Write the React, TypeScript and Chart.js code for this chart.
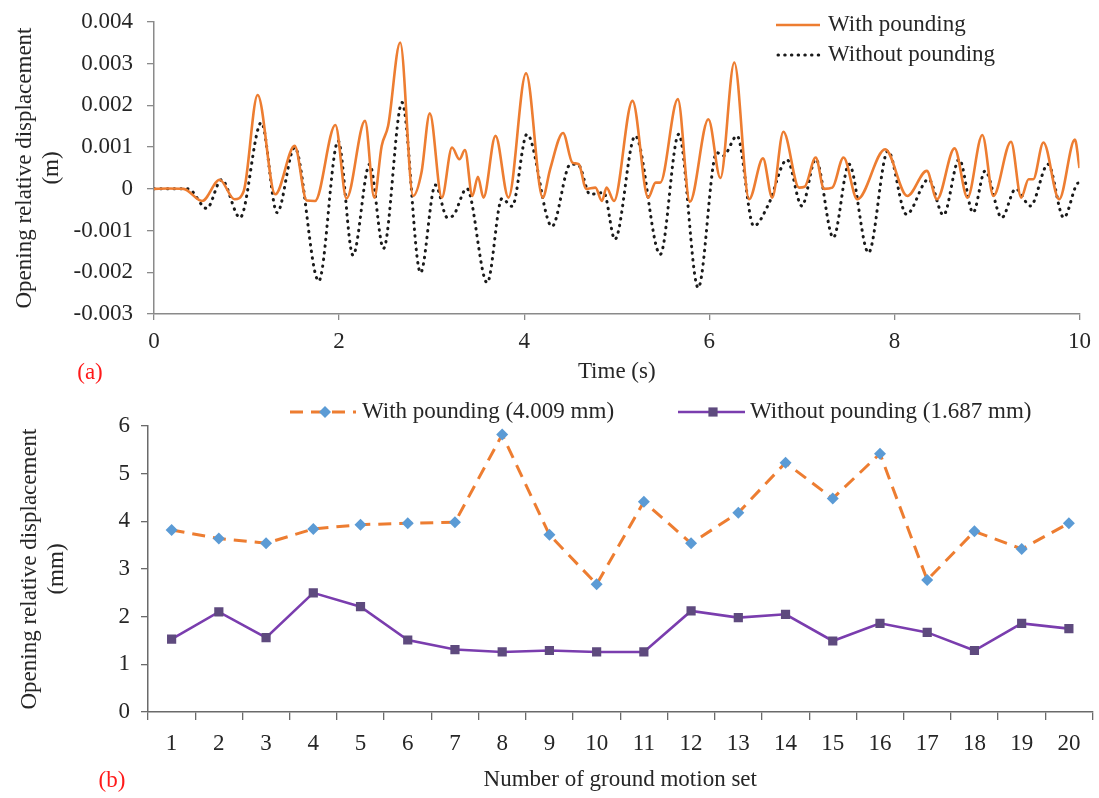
import { useEffect, useRef } from 'react';
import { Chart, registerables } from 'chart.js';

Chart.register(...registerables);

const FONT_FAMILY = '"Liberation Serif", "Times New Roman", Times, serif';
const FONT_SIZE = 23;
const TEXT_COLOR = '#262626';
const LABEL_RED = '#FF1A1A';
const ORANGE = '#ED7D31';
const BLUE = '#5B9BD5';
const PURPLE = '#7A3DAE';
const PURPLE_MARKER = '#5E4A7E';

// ---- Panel (a): opening relative displacement time history ----
const timeWithPounding = [
  0, 0.15, 0.32, 0.52, 0.71, 0.87, 0.97, 1.12, 1.31, 1.52, 1.65, 1.74, 1.96, 2.08, 2.28, 2.38,
  2.46, 2.53, 2.66, 2.8, 2.89, 2.98, 3.11, 3.22, 3.3, 3.36, 3.44, 3.5, 3.56, 3.69, 3.83, 4.02,
  4.2, 4.28, 4.42, 4.52, 4.59, 4.67, 4.77, 4.84, 4.89, 4.97, 5.17, 5.34, 5.42, 5.47, 5.66, 5.79,
  5.99, 6.12, 6.27, 6.43, 6.58, 6.68, 6.8, 6.97, 7.03, 7.15, 7.24, 7.33, 7.45, 7.6, 7.9, 8.14,
  8.35, 8.46, 8.65, 8.79, 8.95, 9.07, 9.26, 9.37, 9.45, 9.5, 9.61, 9.78, 9.95, 10,
];
const dispWithPounding = [
  0, 0.00001, 0, -0.00029, 0.00022, -0.00025, -0.00005, 0.00225, -0.00013, 0.00103, -0.00028,
  -0.00029, 0.00153, -0.00023, 0.00163, -0.00021, 0.00103, 0.00151, 0.00351, -0.00017, 0.00039,
  0.00181, -0.00021, 0.00099, 0.00071, 0.00093, -0.00017, 0.00029, -0.00021, 0.00127, -0.00021,
  0.00277, -0.00021, 0.00047, 0.00134, 0.00063, 0.00059, 0, 0.00003, -0.00029, 0.00003, -0.00029,
  0.00211, -0.00021, 0.00015, 0.00015, 0.00215, -0.00031, 0.00167, 0.00026, 0.00303, -0.00025,
  0.00073, -0.00021, 0.00137, 0.00003, 0.00005, 0.00075, 0, 0.00003, 0.00075, -0.00025, 0.00095,
  -0.00017, 0.00043, -0.00025, 0.00097, -0.00021, 0.00129, -0.00017, 0.00113, -0.00021, 0.00023,
  0.00023, 0.00111, -0.00025, 0.00118, 0.0005,
];
const timeWithoutPounding = [
  0, 0.2, 0.37, 0.57, 0.73, 0.93, 1.16, 1.33, 1.52, 1.78, 1.99, 2.15, 2.33, 2.48, 2.68, 2.88,
  3.04, 3.17, 3.24, 3.38, 3.6, 3.76, 3.87, 4.03, 4.3, 4.5, 4.59, 4.71, 4.86, 4.98, 5.2, 5.47,
  5.67, 5.88, 6.08, 6.15, 6.3, 6.48, 6.64, 6.84, 7.0, 7.15, 7.34, 7.51, 7.72, 7.93, 8.13, 8.37,
  8.53, 8.7, 8.85, 8.98, 9.16, 9.31, 9.47, 9.66, 9.83, 9.97, 10,
];
const dispWithoutPounding = [
  0, 0, 0, -0.00047, 0.00022, -0.00069, 0.00159, -0.00057, 0.00099, -0.00221, 0.00115, -0.00159,
  0.00059, -0.00143, 0.00207, -0.00201, 0.00009, -0.00069, -0.00062, 0.00001, -0.00225, -0.00023,
  -0.00042, 0.00131, -0.0009, 0.00059, 0.00056, -0.00013, -0.00009, -0.00121, 0.00127, -0.00157,
  0.00131, -0.00237, 0.00087, 0.00079, 0.00127, -0.00089, -0.00037, 0.0007, -0.00041, 0.00071,
  -0.00117, 0.00059, -0.00153, 0.00091, -0.00061, 0.00023, -0.00063, 0.00071, -0.00057, 0.00043,
  -0.00069, 0, -0.00041, 0.00059, -0.00069, 0.00011, 0.00015,
];
const timeTicks = { min: 0, max: 10, step: 2 };
const dispTicks = { min: -0.003, max: 0.004, step: 0.001 };

// ---- Panel (b): peak opening displacement per ground motion set ----
const groundMotionSets = [
  '1', '2', '3', '4', '5', '6', '7', '8', '9', '10',
  '11', '12', '13', '14', '15', '16', '17', '18', '19', '20',
];
const peakWithPounding = [
  3.82, 3.64, 3.54, 3.84, 3.93, 3.96, 3.98, 5.82, 3.72, 2.68,
  4.41, 3.54, 4.18, 5.23, 4.48, 5.42, 2.77, 3.79, 3.42, 3.96,
];
const peakWithoutPounding = [
  1.53, 2.1, 1.56, 2.5, 2.21, 1.51, 1.31, 1.26, 1.29, 1.26,
  1.26, 2.12, 1.98, 2.05, 1.49, 1.86, 1.67, 1.29, 1.86, 1.75,
];
const seriesNamesB = ['With pounding (4.009 mm)', 'Without pounding (1.687 mm)'];
const peakTicks = { min: 0, max: 6, step: 1 };

const font = { family: FONT_FAMILY, size: FONT_SIZE };

type LegendEntry = {
  datasetIndex: number;
  x0: number;
  x1: number;
  y: number;
  textX: number;
  markerX?: number;
};

// Draws a free-standing legend plus the red panel letter.
function panelDecorations(id: string, entries: LegendEntry[], letter: { text: string; x: number; y: number }) {
  return {
    id,
    afterDraw(chart: any) {
      const ctx: CanvasRenderingContext2D = chart.ctx;
      ctx.save();
      ctx.font = `${FONT_SIZE}px ${FONT_FAMILY}`;
      ctx.textBaseline = 'middle';
      for (const e of entries) {
        const ds: any = chart.data.datasets[e.datasetIndex];
        ctx.strokeStyle = ds.borderColor;
        ctx.lineWidth = ds.borderWidth;
        ctx.lineCap = ds.borderCapStyle || 'butt';
        ctx.setLineDash(ds.borderDash || []);
        ctx.beginPath();
        ctx.moveTo(e.x0, e.y);
        ctx.lineTo(e.x1, e.y);
        ctx.stroke();
        ctx.setLineDash([]);
        if (e.markerX !== undefined) {
          const r = ds.pointRadius;
          ctx.fillStyle = ds.pointBackgroundColor;
          ctx.beginPath();
          if (ds.pointStyle === 'rectRot') {
            ctx.moveTo(e.markerX, e.y - r);
            ctx.lineTo(e.markerX + r, e.y);
            ctx.lineTo(e.markerX, e.y + r);
            ctx.lineTo(e.markerX - r, e.y);
            ctx.closePath();
          } else {
            const s = r * Math.SQRT1_2;
            ctx.rect(e.markerX - s, e.y - s, 2 * s, 2 * s);
          }
          ctx.fill();
        }
        ctx.fillStyle = TEXT_COLOR;
        ctx.textAlign = 'left';
        ctx.fillText(ds.label, e.textX, e.y);
      }
      ctx.fillStyle = LABEL_RED;
      ctx.textAlign = 'center';
      ctx.fillText(letter.text, letter.x, letter.y);
      ctx.restore();
    },
  };
}

function axisStyle(color: string, tickLength: number, offset = false) {
  return {
    grid: { display: true, drawOnChartArea: false, drawTicks: true, tickLength, color, lineWidth: 1.3, offset },
    border: { display: true, color, width: 1.5 },
  };
}

export default function App() {
  const topRef = useRef<HTMLCanvasElement>(null);
  const bottomRef = useRef<HTMLCanvasElement>(null);

  useEffect(() => {
    const charts: Chart[] = [];
    const topGray = '#8a8a8a';
    const bottomGray = '#6a6a6a';

    if (topRef.current) {
      charts.push(
        new Chart(topRef.current, {
          type: 'line',
          data: {
            datasets: [
              {
                label: 'With pounding',
                data: timeWithPounding.map((t, i) => ({ x: t, y: dispWithPounding[i] })),
                borderColor: ORANGE,
                borderWidth: 2.6,
                pointRadius: 0,
                cubicInterpolationMode: 'monotone',
                fill: false,
              },
              {
                label: 'Without pounding',
                data: timeWithoutPounding.map((t, i) => ({ x: t, y: dispWithoutPounding[i] })),
                borderColor: '#1a1a1a',
                borderWidth: 3,
                borderDash: [0.5, 6.2],
                borderCapStyle: 'round',
                pointRadius: 0,
                cubicInterpolationMode: 'monotone',
                fill: false,
              },
            ],
          },
          options: {
            responsive: false,
            animation: false,
            layout: { padding: { left: 0, top: 22, right: 19, bottom: 0 } },
            plugins: { legend: { display: false }, tooltip: { enabled: false } },
            scales: {
              x: {
                type: 'linear',
                min: timeTicks.min,
                max: timeTicks.max,
                ticks: { stepSize: timeTicks.step, font, color: TEXT_COLOR, padding: 8 },
                title: { display: true, text: 'Time (s)', font, color: TEXT_COLOR, padding: { top: 0, bottom: 9 } },
                ...axisStyle(topGray, 6),
                afterFit: (s: any) => { s.height = 81; },
              },
              y: {
                type: 'linear',
                min: dispTicks.min,
                max: dispTicks.max,
                ticks: {
                  stepSize: dispTicks.step,
                  font,
                  color: TEXT_COLOR,
                  padding: 14,
                  callback: (v: any) => (Math.abs(Number(v)) < 1e-9 ? '0' : Number(v).toFixed(3)),
                },
                title: {
                  display: true,
                  text: ['Opening relative displacement', '(m)'],
                  font,
                  color: TEXT_COLOR,
                  padding: { top: 11, bottom: 0 },
                },
                ...axisStyle(topGray, 7),
                afterFit: (s: any) => {
                  s.width = 154;
                  s.paddingTop = 0;
                  s.paddingBottom = 0;
                },
              },
            },
          },
          plugins: [
            panelDecorations(
              'legendA',
              [
                { datasetIndex: 0, x0: 776, x1: 820, y: 25, textX: 828 },
                { datasetIndex: 1, x0: 778, x1: 820, y: 55, textX: 828 },
              ],
              { text: '(a)', x: 90, y: 373 },
            ),
          ],
        } as any),
      );
    }

    if (bottomRef.current) {
      charts.push(
        new Chart(bottomRef.current, {
          type: 'line',
          data: {
            labels: groundMotionSets,
            datasets: [
              {
                label: seriesNamesB[0],
                data: peakWithPounding,
                borderColor: ORANGE,
                borderWidth: 3,
                borderDash: [13, 8],
                pointStyle: 'rectRot',
                pointRadius: 6,
                pointBackgroundColor: BLUE,
                pointBorderColor: BLUE,
                pointBorderWidth: 0,
                tension: 0,
                fill: false,
              },
              {
                label: seriesNamesB[1],
                data: peakWithoutPounding,
                borderColor: PURPLE,
                borderWidth: 2.6,
                pointStyle: 'rect',
                pointRadius: 6.5,
                pointBackgroundColor: PURPLE_MARKER,
                pointBorderColor: PURPLE_MARKER,
                pointBorderWidth: 0,
                tension: 0,
                fill: false,
              },
            ],
          },
          options: {
            responsive: false,
            animation: false,
            layout: { padding: { left: 0, top: 31, right: 2, bottom: 0 } },
            plugins: { legend: { display: false }, tooltip: { enabled: false } },
            scales: {
              x: {
                type: 'category',
                offset: true,
                ticks: { font, color: TEXT_COLOR, padding: 10, autoSkip: false, maxRotation: 0 },
                title: {
                  display: true,
                  text: 'Number of ground motion set',
                  font,
                  color: TEXT_COLOR,
                  padding: { top: 0, bottom: 4 },
                },
                ...axisStyle(bottomGray, 8, true),
                afterFit: (s: any) => { s.height = 86; },
              },
              y: {
                type: 'linear',
                min: peakTicks.min,
                max: peakTicks.max,
                ticks: { stepSize: peakTicks.step, font, color: TEXT_COLOR, padding: 11 },
                title: {
                  display: true,
                  text: ['Opening relative displacement', '(mm)'],
                  font,
                  color: TEXT_COLOR,
                  padding: { top: 16, bottom: 0 },
                },
                ...axisStyle(bottomGray, 7),
                afterFit: (s: any) => {
                  s.width = 148;
                  s.paddingTop = 0;
                  s.paddingBottom = 0;
                },
              },
            },
          },
          plugins: [
            panelDecorations(
              'legendB',
              [
                { datasetIndex: 0, x0: 290, x1: 356, y: 17, textX: 362, markerX: 325 },
                { datasetIndex: 1, x0: 678, x1: 745, y: 17, textX: 750, markerX: 713 },
              ],
              { text: '(b)', x: 112, y: 386 },
            ),
          ],
        } as any),
      );
    }

    return () => charts.forEach((c) => c.destroy());
  }, []);

  return (
    <div style={{ position: 'fixed', left: 0, top: 0, width: 1099, height: 798, background: '#ffffff' }}>
      <canvas
        ref={topRef}
        width={1099}
        height={395}
        style={{ position: 'absolute', left: 0, top: 0, width: 1099, height: 395 }}
      />
      <canvas
        ref={bottomRef}
        width={1099}
        height={403}
        style={{ position: 'absolute', left: 0, top: 395, width: 1099, height: 403 }}
      />
    </div>
  );
}
